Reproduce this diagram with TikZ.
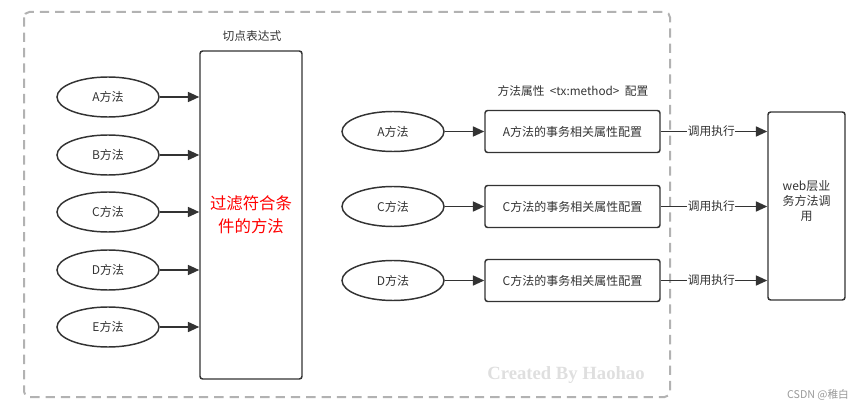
\documentclass[tikz,border=0pt]{standalone}
\usepackage{fontspec}
\setmainfont{Noto Sans CJK SC}
\newfontfamily\wmfont{Liberation Serif}
\usetikzlibrary{arrows.meta, shapes.geometric}

\definecolor{ink}{HTML}{333333}

\begin{document}
\begin{tikzpicture}[x=0.75pt, y=-0.75pt,
    meth/.style={draw=ink, line width=1.1pt, ellipse, minimum width=76.5pt, minimum height=30pt,
        inner sep=0pt, font=\fontsize{9}{10}\selectfont, text=ink},
    cfgbox/.style={draw=ink, line width=1.1pt, rounded corners=2pt, minimum width=131.25pt,
        minimum height=31.5pt, inner sep=0pt, font=\fontsize{9}{10}\selectfont, text=ink},
    arr/.style={draw=ink, line width=1.2pt, -{Triangle[length=8.5pt, width=7.5pt]}},
    lbl/.style={font=\fontsize{8.8}{10}\selectfont, text=ink}]
    \useasboundingbox (0,0) rectangle (868,410);
    % outer dashed frame
    \draw[gray!60, line width=1.5pt, dash pattern=on 7pt off 4.5pt, rounded corners=4pt]
        (24,12) rectangle (670,397);

    % pointcut box
    \node[draw=ink, line width=1.1pt, rounded corners=2pt, minimum width=76.5pt, minimum height=246pt,
        inner sep=0pt] (filter) at (251,215) {};
    \node[text=red, align=center, font=\fontsize{12.3}{17}\selectfont] (filtertxt) at (251,215)
        {过滤符合条\\件的方法};
    \node[lbl] (pclbl) at (252,36) {切点表达式};

    \foreach \n/\y in {A/97,B/155,C/212,D/270,E/327} {
        \node[meth] (l\n) at (108,\y) {\n{}方法};
        \draw[arr] (l\n) -- (l\n -| filter.west);
    }

    % web layer
    \node[draw=ink, line width=1.1pt, rounded corners=2pt, minimum width=57.75pt, minimum height=141pt,
        inner sep=0pt] (web) at (806.5,206) {};
    \node[align=center, text=ink, font=\fontsize{9}{11.5}\selectfont] (webtxt) at (806.5,201)
        {web层业\\务方法调\\用};

    \node[lbl] (txlbl) at (573,91) {方法属性\hspace{4pt}<tx:method>\hspace{4pt}配置};

    \foreach \n/\m/\y in {A/A/131.5,C/C/206.5,D/C/280.5} {
        \node[meth] (r\n) at (393,\y) {\n{}方法};
        \node[cfgbox] (c\n) at (572.5,\y) {\m{}方法的事务相关属性配置};
        \draw[arr] (r\n) -- (c\n);
        \draw[arr] (c\n) -- node[lbl, fill=white, inner sep=0.5pt, xshift=-2pt] {调用执行} (c\n -| web.west);
    }

    \node[text=gray!25, font=\wmfont\bfseries\fontsize{14}{16}\selectfont] (wm) at (566,375)
        {Created By Haohao};
    \node[text=gray!80, font=\fontsize{8}{9}\selectfont] (csdn) at (818,395) {CSDN @稚白};
\end{tikzpicture}
\end{document}
